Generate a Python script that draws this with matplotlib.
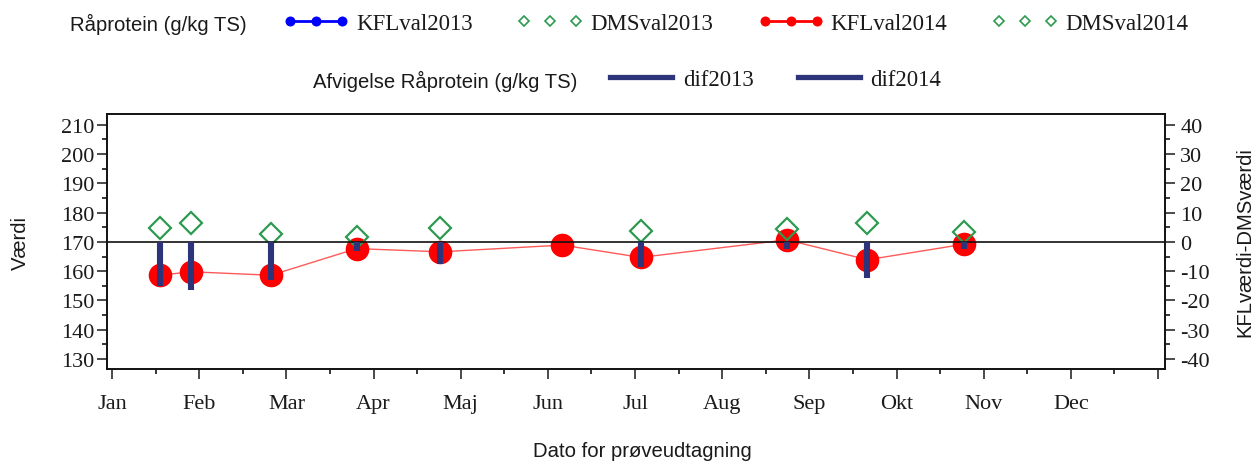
import matplotlib
matplotlib.use('Agg')
import matplotlib.pyplot as plt
import numpy as np
import pandas as pd
from matplotlib.lines import Line2D
from matplotlib.ticker import MultipleLocator, FixedLocator

plt.rcParams['font.family'] = ['Liberation Serif', 'DejaVu Serif']
plt.rcParams['axes.unicode_minus'] = False
SANS = ['Liberation Sans', 'DejaVu Sans']

# ---------------- data ----------------
months = ['Jan', 'Feb', 'Mar', 'Apr', 'Maj', 'Jun', 'Jul', 'Aug', 'Sep', 'Okt', 'Nov', 'Dec']
dates2014 = ['2014-01-18', '2014-01-29', '2014-02-24', '2014-03-26', '2014-04-24',
             '2014-06-06', '2014-07-03', '2014-08-24', '2014-09-21', '2014-10-25']
kfl2014 = [158.6, 159.8, 158.6, 167.7, 166.6, 168.9, 164.7, 170.7, 163.9, 169.2]
dms2014 = [174.6, 176.6, 172.6, 171.5, 174.6, np.nan, 173.8, 174.3, 176.4, 173.2]
dif2014 = [-15.0, -16.4, -13.0, -3.1, -7.6, np.nan, -8.7, -2.5, -12.2, -2.5]
# 2013 series appear only in the legend (no points drawn)
dates2013 = []
kfl2013 = []
dms2013 = []
dif2013 = []
ref_value = 170
left_ticks = list(range(130, 211, 10))
right_ticks = list(range(-40, 41, 10))


def month_pos(ds):
    if len(ds) == 0:
        return np.array([])
    d = pd.to_datetime(ds)
    return np.asarray(d.month - 1) + (np.asarray(d.day) - 1) / np.asarray(d.days_in_month)


x14 = month_pos(dates2014)
x13 = month_pos(dates2013)

W, H = 1256, 464
fig = plt.figure(figsize=(W / 100, H / 100), dpi=100)
ax = fig.add_axes([107 / W, 1 - 370 / H, (1165 - 107) / W, 255 / H])
ylo, yhi = 126.6, 213.65
ax.set_ylim(ylo, yhi)
ax.set_xlim(-0.058, 12.08)
ax2 = ax.twinx()
ax2.set_ylim(ylo - ref_value, yhi - ref_value)

RED = '#ff0000'
GREEN = '#2e9a50'
NAVY = '#2e3479'
BLUE = '#0000ff'
TXT = '#1a1a1a'

# series
ax.plot(x14, kfl2014, color='#ff5a5a', lw=1.0, zorder=2)
ax.plot(x14, kfl2014, 'o', ms=17, color=RED, mec='none', zorder=3)
ax.plot(x14, dms2014, 'D', ms=11.5, mfc='none', mec=GREEN, mew=1.6, zorder=4)
if len(x13):
    ax.plot(x13, kfl2013, '-o', color=BLUE)
    ax.plot(x13, dms2013, 'D', mfc='none', mec=GREEN)

ax2.axhline(0, color='#111111', lw=1.2, zorder=2)
ax2.vlines(x14, 0, dif2014, color=NAVY, lw=4.4, zorder=3)

# ticks
ax.yaxis.set_major_locator(FixedLocator(left_ticks))
ax.yaxis.set_minor_locator(MultipleLocator(5))
ax2.yaxis.set_major_locator(FixedLocator(right_ticks))
ax2.yaxis.set_minor_locator(MultipleLocator(5))
ax.set_xticks(np.arange(0, 13))
ax.set_xticklabels(months + [''])
ax.xaxis.set_minor_locator(FixedLocator(np.arange(0.5, 12, 1)))

for a in (ax, ax2):
    a.tick_params(which='major', direction='out', length=7, width=1.1, labelsize=16,
                  colors=TXT)
    a.tick_params(which='minor', direction='out', length=3.5, width=1.1)
    for s in a.spines.values():
        s.set_linewidth(1.2)
        s.set_color('#111111')
ax.tick_params(axis='x', which='major', length=7.2, pad=11)
ax.tick_params(axis='x', which='minor', length=3.6)
ax.tick_params(axis='y', pad=2)
ax2.tick_params(axis='y', pad=4)

# axis labels
ax.set_ylabel('Værdi', family=SANS, fontsize=14.6, color=TXT)
ax.yaxis.set_label_coords((20 - 107) / (1165 - 107), 0.5)
ax.yaxis.label.set_va('center')
ax2.set_ylabel('KFLværdi-DMSværdi', family=SANS, fontsize=14.6, color=TXT)
ax2.yaxis.set_label_coords((1245 - 107) / (1165 - 107), 0.5)
ax2.yaxis.label.set_va('center')
ax.set_xlabel('Dato for prøveudtagning', family=SANS, fontsize=14.6, color=TXT)
ax.xaxis.set_label_coords((642 - 107) / (1165 - 107), (370 - 452) / 255)
ax.xaxis.label.set_va('center')

# legends
fig.text(70 / W, 1 - 31 / H, 'Råprotein (g/kg TS)', family=SANS, fontsize=14.6,
         color=TXT, va='baseline', ha='left')
fig.text(313 / W, 1 - 88 / H, 'Afvigelse Råprotein (g/kg TS)', family=SANS,
         fontsize=14.6, color=TXT, va='baseline', ha='left')

h_kfl13 = Line2D([], [], color=BLUE, lw=2, marker='o', ms=7.2, mec='none')
h_dms13 = Line2D([], [], ls='none', marker='D', ms=5.0, mfc='none', mec=GREEN, mew=1.2)
h_kfl14 = Line2D([], [], color=RED, lw=2, marker='o', ms=7.2, mec='none')
h_dms14 = Line2D([], [], ls='none', marker='D', ms=5.0, mfc='none', mec=GREEN, mew=1.2)
h_dif13 = Line2D([], [], color=NAVY, lw=3.8)
h_dif14 = Line2D([], [], color=NAVY, lw=3.8)

leg1 = fig.legend([h_kfl13, h_dms13, h_kfl14, h_dms14],
                  ['KFLval2013', 'DMSval2013', 'KFLval2014', 'DMSval2014'],
                  loc='center left', bbox_to_anchor=(283 / W, 1 - 24 / H), ncol=4,
                  frameon=False, numpoints=3, borderpad=0, borderaxespad=0,
                  handlelength=2.87, handletextpad=0.31, columnspacing=1.95,
                  prop={'size': 16.5})
leg2 = fig.legend([h_dif13, h_dif14], ['dif2013', 'dif2014'],
                  loc='center left', bbox_to_anchor=(610 / W, 1 - 80 / H), ncol=2,
                  frameon=False, borderpad=0, borderaxespad=0, handlelength=2.7,
                  handletextpad=0.48, columnspacing=1.92, prop={'size': 16.5})
for lg in (leg1, leg2):
    for t in lg.get_texts():
        t.set_color(TXT)

fig.savefig('out.png', dpi=100)
